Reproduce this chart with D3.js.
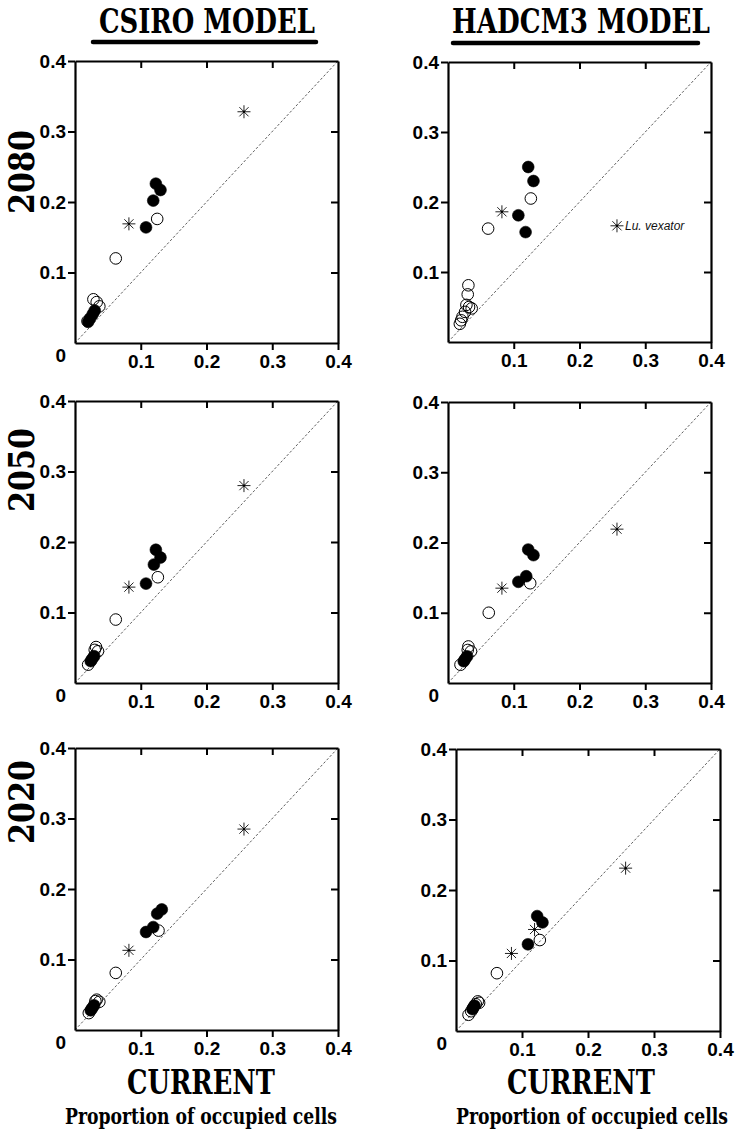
<!DOCTYPE html>
<html>
<head>
<meta charset="utf-8">
<script src="https://cdn.jsdelivr.net/npm/d3@7"></script>
<style>
  html,body{margin:0;padding:0;background:#fff;}
  svg{display:block;}
</style>
</head>
<body>
<svg id="chart" width="738" height="1139"></svg>
<script>
// ---------- DATA (current proportion, future proportion) ----------
const modelNames = ["CSIRO MODEL", "HADCM3 MODEL"];
const yearNames = ["2080", "2050", "2020"];
const tickValues = [0, 0.1, 0.2, 0.3, 0.4];
const tickLabels = ["0", "0.1", "0.2", "0.3", "0.4"];
const xLabelMain = "CURRENT";
const xLabelSub = "Proportion of occupied cells";
const calloutSpecies = "Lu. vexator";

// CSIRO 2080
const csiro2080Filled = [[0.123,0.226],[0.130,0.217],[0.119,0.202],[0.108,0.164],
  [0.030,0.046],[0.027,0.041],[0.023,0.035],[0.020,0.030]];
const csiro2080Open = [[0.125,0.176],[0.062,0.120],[0.028,0.062],[0.033,0.058],[0.037,0.052],[0.019,0.031]];
const csiro2080Star = [[0.257,0.328],[0.082,0.169]];
// HADCM3 2080
const hadcm2080Filled = [[0.122,0.250],[0.130,0.230],[0.107,0.181],[0.118,0.157]];
const hadcm2080Open = [[0.126,0.205],[0.061,0.162],[0.031,0.081],[0.030,0.068],[0.028,0.053],
  [0.036,0.048],[0.026,0.043],[0.022,0.036],[0.020,0.031],[0.018,0.026],[0.032,0.050]];
const hadcm2080Star = [[0.082,0.186],[0.257,0.166]];
// CSIRO 2050
const csiro2050Filled = [[0.123,0.189],[0.130,0.178],[0.120,0.168],[0.108,0.141],
  [0.029,0.038],[0.026,0.034],[0.024,0.031]];
const csiro2050Open = [[0.126,0.150],[0.062,0.090],[0.032,0.051],[0.035,0.045],[0.020,0.026],[0.030,0.047]];
const csiro2050Star = [[0.257,0.280],[0.082,0.136]];
// HADCM3 2050
const hadcm2050Filled = [[0.122,0.190],[0.130,0.182],[0.119,0.152],[0.107,0.144],
  [0.029,0.038],[0.026,0.034],[0.024,0.031]];
const hadcm2050Open = [[0.125,0.142],[0.062,0.100],[0.031,0.052],[0.035,0.045],[0.019,0.026],[0.030,0.047]];
const hadcm2050Star = [[0.257,0.219],[0.082,0.135]];
// CSIRO 2020
const csiro2020Filled = [[0.132,0.171],[0.125,0.165],[0.119,0.146],[0.108,0.139],
  [0.029,0.035],[0.026,0.031],[0.024,0.028]];
const csiro2020Open = [[0.127,0.141],[0.062,0.081],[0.033,0.043],[0.037,0.040],[0.021,0.024],[0.031,0.041]];
const csiro2020Star = [[0.257,0.285],[0.082,0.113]];
// HADCM3 2020
const hadcm2020Filled = [[0.123,0.163],[0.131,0.154],[0.109,0.123],
  [0.028,0.036],[0.025,0.031]];
const hadcm2020Open = [[0.127,0.129],[0.062,0.082],[0.033,0.042],[0.030,0.038],[0.026,0.033],
  [0.023,0.028],[0.019,0.023],[0.035,0.040]];
const hadcm2020Star = [[0.257,0.231],[0.084,0.110],[0.119,0.144]];

// ---------- LAYOUT ----------
const panels = [
  {year:0, model:0, box:[75,338,61,343], filled:csiro2080Filled, open:csiro2080Open, star:csiro2080Star, zero:true},
  {year:0, model:1, box:[448,711,62,342], filled:hadcm2080Filled, open:hadcm2080Open, star:hadcm2080Star, zero:false, callout:1},
  {year:1, model:0, box:[75,338,401,683], filled:csiro2050Filled, open:csiro2050Open, star:csiro2050Star, zero:true},
  {year:1, model:1, box:[448,711,402,683], filled:hadcm2050Filled, open:hadcm2050Open, star:hadcm2050Star, zero:true},
  {year:2, model:0, box:[75,338,748,1030], filled:csiro2020Filled, open:csiro2020Open, star:csiro2020Star, zero:true},
  {year:2, model:1, box:[456,720,749,1031], filled:hadcm2020Filled, open:hadcm2020Open, star:hadcm2020Star, zero:true}
];

const svg = d3.select("#chart");
const tickFont = "'Liberation Sans', Arial, sans-serif";
const serifFont = "'DejaVu Serif Condensed', 'DejaVu Serif', 'Liberation Serif', serif";
const fmt = d => tickLabels[tickValues.indexOf(d)];

// Fit a bold serif text to a target width (natural width, no textLength) and
// stretch it vertically to a target cap height.
function fitText(str, x, y, width, capH, anchor, rotate) {
  const g = svg.append("g");
  const t = g.append("text").attr("font-family", serifFont).attr("font-weight", "bold")
    .attr("font-size", 30).attr("text-anchor", anchor).text(str);
  const w = t.node().getComputedTextLength();
  const fs = 30 * width / w;
  t.attr("font-size", fs);
  const k = capH / (0.729 * fs);
  g.attr("transform", `translate(${x},${y})${rotate ? " rotate(-90)" : ""} scale(1,${k})`);
  return g;
}

// Headers
const headers = [
  {x:99, w:216, bar:[93,316], by:42},
  {x:452, w:258, bar:[453,698], by:43}
];
headers.forEach((h,i) => {
  fitText(modelNames[i], h.x, 33, h.w, 25, "start", false);
  svg.append("line").attr("x1", h.bar[0]).attr("x2", h.bar[1]).attr("y1", h.by).attr("y2", h.by)
    .attr("stroke", "#000").attr("stroke-width", 4.5).attr("stroke-linecap", "round");
});

// Row labels
const rowCenters = [172, 470, 802];
yearNames.forEach((yr,i) => {
  fitText(yr, 34, rowCenters[i], 84, 26, "middle", true);
});

// star symbol path
function starPath(s) {
  let p = "";
  for (let k = 0; k < 4; k++) {
    const a = k * Math.PI / 4;
    const dx = Math.cos(a) * s, dy = Math.sin(a) * s;
    p += `M${-dx},${-dy}L${dx},${dy}`;
  }
  return p;
}

panels.forEach(p => {
  const [l, r, t, b] = p.box;
  const x = d3.scaleLinear().domain([0, 0.4]).range([l, r]);
  const y = d3.scaleLinear().domain([0, 0.4]).range([b, t]);
  const g = svg.append("g");

  // diagonal 1:1 line
  g.append("line")
    .attr("x1", x(0)).attr("y1", y(0)).attr("x2", x(0.4)).attr("y2", y(0.4))
    .attr("stroke", "#333").attr("stroke-width", 0.8).attr("stroke-dasharray", "2.5,2");

  // axes
  const yTicks = p.zero ? tickValues : tickValues.slice(1);
  const left = g.append("g").attr("transform", `translate(${l},0)`)
    .call(d3.axisLeft(y).tickValues(yTicks).tickFormat(fmt).tickSize(7).tickSizeOuter(0).tickPadding(2));
  const bottom = g.append("g").attr("transform", `translate(0,${b})`)
    .call(d3.axisBottom(x).tickValues(tickValues.slice(1)).tickFormat(fmt).tickSize(7).tickSizeOuter(0).tickPadding(5));
  const top = g.append("g").attr("transform", `translate(0,${t})`)
    .call(d3.axisTop(x).tickValues(tickValues.slice(1, 4)).tickFormat("").tickSize(-7).tickSizeOuter(0));
  const right = g.append("g").attr("transform", `translate(${r},0)`)
    .call(d3.axisRight(y).tickValues(tickValues.slice(1, 4)).tickFormat("").tickSize(-7).tickSizeOuter(0));

  [left, bottom, top, right].forEach(a => {
    a.select(".domain").attr("stroke", "#000").attr("stroke-width", 2.2);
    a.selectAll(".tick line").attr("stroke", "#000").attr("stroke-width", 2);
    a.selectAll(".tick text").attr("font-family", tickFont).attr("font-weight", "bold")
      .attr("font-size", 19).attr("fill", "#000");
  });
  // "0" label sits just below the corner
  left.selectAll(".tick").filter(d => d === 0).select("text").attr("dy", "0.95em");
  left.selectAll(".tick").filter(d => d === 0).select("line").remove();

  // open circles
  g.selectAll("circle.open").data(p.open).join("circle").attr("class", "open")
    .attr("cx", d => x(d[0])).attr("cy", d => y(d[1])).attr("r", 5.8)
    .attr("fill", "none").attr("stroke", "#000").attr("stroke-width", 1);
  // stars
  g.selectAll("path.star").data(p.star).join("path").attr("class", "star")
    .attr("transform", d => `translate(${x(d[0])},${y(d[1])})`)
    .attr("d", starPath(6.5)).attr("stroke", "#222").attr("stroke-width", 1).attr("fill", "none");
  g.selectAll("circle.sdot").data(p.star).join("circle").attr("class", "sdot")
    .attr("cx", d => x(d[0])).attr("cy", d => y(d[1])).attr("r", 1.2).attr("fill", "#000");
  // filled circles
  g.selectAll("circle.filled").data(p.filled).join("circle").attr("class", "filled")
    .attr("cx", d => x(d[0])).attr("cy", d => y(d[1])).attr("r", 5.9)
    .attr("fill", "#000").attr("stroke", "#000").attr("stroke-width", 0.6);

  if (p.callout !== undefined) {
    const d = p.star[p.callout];
    g.append("text").attr("x", x(d[0]) + 8).attr("y", y(d[1]) + 4.5)
      .attr("font-family", tickFont).attr("font-style", "italic").attr("font-size", 12)
      .attr("fill", "#111").text(calloutSpecies);
  }

  // bottom labels for last row
  if (p.year === 2) {
    const cx = p.model === 0 ? 201 : 581;
    const sx = p.model === 0 ? 201 : 592;
    fitText(xLabelMain, cx, 1094, 148, 25, "middle", false);
    fitText(xLabelSub, sx, 1124, 272, 16.5, "middle", false);
  }
});
</script>
</body>
</html>
